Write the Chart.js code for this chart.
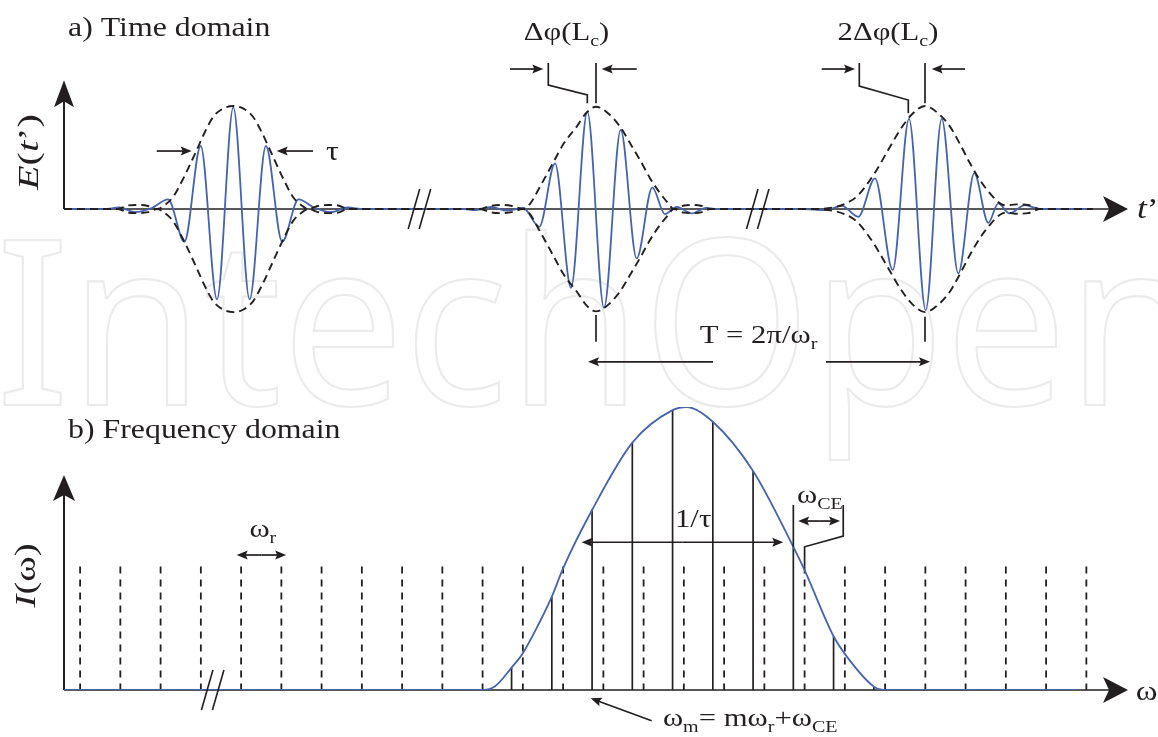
<!DOCTYPE html>
<html>
<head>
<meta charset="utf-8">
<script src="https://cdn.jsdelivr.net/npm/chart.js@4.4.0/dist/chart.umd.min.js"></script>
<style>
html, body { margin: 0; padding: 0; background: #fff; }
#wrap { position: relative; width: 1158px; height: 737px; overflow: hidden; }
#wrap canvas { position: absolute; left: 0; }
#fundo { top: 0; }
#topo { top: 0; }
#baixo { top: 370px; }
</style>
</head>
<body>
<div id="wrap">
  <canvas id="fundo" width="1158" height="737"></canvas>
  <canvas id="topo" width="1158" height="370"></canvas>
  <canvas id="baixo" width="1158" height="367"></canvas>
</div>
<script>
// a) dominio do tempo: t em unidades arbitrarias, amplitude normalizada (pico = 1)
const pulsoT = [0, 40, 55.2, 71.5, 87.8, 104.1, 120.4, 136.7, 153, 169.3, 185.6, 201.9, 218.2, 234.5, 250.8, 267.1, 283.4, 300,
    400, 411, 427, 443, 459.3, 475.3, 491, 507, 523.3, 540, 556.7, 572.7, 588.3, 601, 612.7, 627.7, 642, 655,
    740, 761, 778, 794.3, 811, 828.7, 845, 861.7, 877.7, 894.3, 910.3, 924.3, 934.3, 945.3, 961, 976, 1029];
const pulsoE = [0, 0, 0.015, -0.03, 0.01, 0.094, -0.317, 0.612, -0.877, 0.987, -0.877, 0.612, -0.317, 0.094, 0.01, -0.03, 0.015, 0,
    0, -0.01, 0.02, -0.015, 0.01, -0.172, 0.444, -0.764, 0.945, -0.958, 0.767, -0.479, 0.207, -0.049, 0.022, -0.042, 0.01, 0,
    0, -0.01, 0.03, -0.075, 0.298, -0.592, 0.876, -0.981, 0.876, -0.624, 0.348, -0.133, 0.055, -0.042, 0.039, 0, 0];

// envoltoria (lado de cima; o de baixo e o espelho)
const envT = [0, 54, 64, 74, 84, 93, 101, 109, 121, 132.7, 141, 149.3, 159, 169.3, 179.5, 189, 197.5, 206, 217.5, 229, 237, 244, 254, 264, 274, 284,
    416, 426, 437, 448, 459, 466, 475, 489, 500, 512.7, 522, 532, 544, 556, 566, 576, 586, 596, 603, 610, 620, 630, 638, 646,
    751, 771, 783, 792.7, 803, 812.7, 824, 836, 848, 861, 874, 886, 896, 906, 916, 926, 936, 942, 952, 964, 976, 1029];
const envA = [0, 0, 0.035, 0.04, 0.03, 0, 0.04, 0.117, 0.33, 0.573, 0.75, 0.896, 0.975, 1.0, 0.975, 0.896, 0.75, 0.573, 0.33, 0.117, 0.04, 0, 0.03, 0.04, 0.035, 0,
    0, 0.03, 0.04, 0.03, 0, 0.05, 0.2, 0.447, 0.64, 0.8, 0.93, 0.993, 0.93, 0.8, 0.64, 0.476, 0.3, 0.155, 0.07, 0, 0.035, 0.04, 0.03, 0,
    0, 0.02, 0.06, 0.12, 0.24, 0.38, 0.57, 0.767, 0.92, 1.0, 0.93, 0.8, 0.63, 0.444, 0.28, 0.152, 0.055, 0.035, 0.045, 0.04, 0, 0];

// b) dominio da frequencia: x em unidades de omega_r
const combN = [0, 1, 2, 3, 4, 5, 6, 7, 8, 9, 10, 11, 12, 13, 14, 15, 16, 17, 18, 19, 20, 21, 22, 23, 24, 25];
const combAltura = 0.436;
const modoN = [10.72, 11.72, 12.72, 13.72, 14.72, 15.72, 16.72, 17.72, 18.72, 19.72];
const modoI = [0.079, 0.33, 0.636, 0.874, 0.989, 0.948, 0.774, 0.506, 0.19, 0.012];
const espN = [-0.4, 10.01, 10.3, 10.72, 11.0, 11.4, 11.72, 12.0, 12.72, 13.72, 14.72, 15.07, 15.72, 16.72, 17.72, 18.0, 18.72, 19.05, 19.72, 19.95, 24.77];
const espI = [0, 0, 0.012, 0.079, 0.13, 0.235, 0.33, 0.43, 0.636, 0.874, 0.989, 1.0, 0.948, 0.774, 0.506, 0.424, 0.19, 0.118, 0.012, 0, 0];

const TINTA = '#231f20';
const AZUL = '#4464b0';
const SX = 1.18; // texto da figura original e meio esticado na horizontal
const SERIF = '"Liberation Serif", "Times New Roman", serif';

function pontos(xs, ys) {
    return xs.map((x, i) => ({ x: x, y: ys[i] }));
}

function fonte(tipo, tam) {
    const t = tipo === 's' ? Math.round(tam * 0.65) : tam;
    return (tipo === 'i' ? 'italic ' : '') + t + 'px ' + SERIF;
}

// partes: [texto, tipo]  tipo 'n' normal, 'i' italico, 's' subscrito
function escreve(ctx, partes, x, y, tam, alinh) {
    ctx.save();
    ctx.fillStyle = TINTA;
    ctx.textAlign = 'left';
    ctx.textBaseline = 'alphabetic';
    let larg = 0;
    partes.forEach(p => { ctx.font = fonte(p[1], tam); larg += ctx.measureText(p[0]).width; });
    ctx.translate(x, y);
    ctx.scale(SX, 1);
    let cx = alinh === 'center' ? -larg / 2 : 0;
    partes.forEach(p => {
        ctx.font = fonte(p[1], tam);
        ctx.fillText(p[0], cx, p[1] === 's' ? tam * 0.24 : 0);
        cx += ctx.measureText(p[0]).width;
    });
    ctx.restore();
}

function escreveVertical(ctx, partes, cx, cy, tam, compr) {
    ctx.save();
    ctx.fillStyle = TINTA;
    ctx.textAlign = 'left';
    ctx.textBaseline = 'middle';
    let larg = 0;
    partes.forEach(p => { ctx.font = fonte(p[1], tam); larg += ctx.measureText(p[0]).width; });
    ctx.translate(cx, cy);
    ctx.rotate(-Math.PI / 2);
    ctx.scale(compr / larg, 1);
    let x = -larg / 2;
    partes.forEach(p => {
        ctx.font = fonte(p[1], tam);
        ctx.fillText(p[0], x, 0);
        x += ctx.measureText(p[0]).width;
    });
    ctx.restore();
}

function linha(ctx, pts, larg) {
    ctx.save();
    ctx.strokeStyle = TINTA;
    ctx.lineWidth = larg || 1.7;
    ctx.beginPath();
    pts.forEach((p, i) => i ? ctx.lineTo(p[0], p[1]) : ctx.moveTo(p[0], p[1]));
    ctx.stroke();
    ctx.restore();
}

// seta de (x1,y1) ate a ponta (x2,y2)
function seta(ctx, x1, y1, x2, y2, comp, meia, entalhe, larg) {
    const a = Math.atan2(y2 - y1, x2 - x1);
    ctx.save();
    ctx.strokeStyle = TINTA;
    ctx.fillStyle = TINTA;
    ctx.lineWidth = larg || 1.7;
    ctx.beginPath();
    ctx.moveTo(x1, y1);
    ctx.lineTo(x2 - Math.cos(a) * comp * 0.7, y2 - Math.sin(a) * comp * 0.7);
    ctx.stroke();
    ctx.translate(x2, y2);
    ctx.rotate(a);
    ctx.beginPath();
    ctx.moveTo(0, 0);
    ctx.lineTo(-comp, -meia);
    ctx.lineTo(-comp + entalhe, 0);
    ctx.lineTo(-comp, meia);
    ctx.closePath();
    ctx.fill();
    ctx.restore();
}

function setaDupla(ctx, x1, y1, x2, y2) {
    const mx = (x1 + x2) / 2, my = (y1 + y2) / 2;
    seta(ctx, mx, my, x1, y1, 11, 4.5, 2);
    seta(ctx, mx, my, x2, y2, 11, 4.5, 2);
}

function quebra(ctx, cx, cy) {
    linha(ctx, [[cx - 11.5, cy + 20], [cx, cy - 20]], 1.6);
    linha(ctx, [[cx - 0.5, cy + 20], [cx + 11, cy - 20]], 1.6);
}

// marca d'agua ao fundo
const fundo = document.getElementById('fundo').getContext('2d');
fundo.font = '230px "Noto Sans"';
fundo.strokeStyle = '#ebebeb';
fundo.lineWidth = 2.2;
const largMarca = fundo.measureText('IntechOpen').width;
fundo.save();
fundo.translate(-4, 405);
fundo.scale(1205 / largMarca, 1);
fundo.strokeText('IntechOpen', 0, 0);
fundo.restore();

const decorTopo = {
    id: 'decorTopo',
    beforeDatasetsDraw(chart) {
        const ctx = chart.ctx;
        const X = t => chart.scales.x.getPixelForValue(t);
        const Y = v => chart.scales.y.getPixelForValue(v);
        seta(ctx, X(0), Y(0), X(0), Y(1.25), 27, 10, 6, 2);
        seta(ctx, X(0), Y(0), X(1064), Y(0), 25, 13, 6, 1.6);
    },
    afterDatasetsDraw(chart) {
        const ctx = chart.ctx;
        const X = t => chart.scales.x.getPixelForValue(t);
        const Y = v => chart.scales.y.getPixelForValue(v);

        quebra(ctx, X(355.7), Y(0));
        quebra(ctx, X(694), Y(0));

        // tau
        seta(ctx, X(92.7), Y(0.563), X(127.7), Y(0.563), 11, 4.5, 2);
        seta(ctx, X(249), Y(0.563), X(212.7), Y(0.563), 11, 4.5, 2);
        escreve(ctx, [['τ', 'n']], X(262), Y(0.476), 27);

        // delta phi
        linha(ctx, [[X(532), Y(1.4175)], [X(532), Y(1.026)]]);
        linha(ctx, [[X(532), Y(-1.029)], [X(532), Y(-1.288)]]);
        linha(ctx, [[X(484.3), Y(1.4175)], [X(484.3), Y(1.204)], [X(523.3), Y(1.107)], [X(523.3), Y(1.026)]]);
        seta(ctx, X(446), Y(1.359), X(479.3), Y(1.359), 11, 4.5, 2);
        seta(ctx, X(572.7), Y(1.359), X(537.7), Y(1.359), 11, 4.5, 2);
        escreve(ctx, [['Δφ(L', 'n'], ['c', 's'], [')', 'n']], X(502.5), Y(1.641), 26, 'center');

        // 2 delta phi
        linha(ctx, [[X(861), Y(1.4175)], [X(861), Y(1.026)]]);
        linha(ctx, [[X(861), Y(-1.046)], [X(861), Y(-1.288)]]);
        linha(ctx, [[X(795.3), Y(1.4175)], [X(795.3), Y(1.194)], [X(844.3), Y(1.058)], [X(844.3), Y(0.929)]]);
        seta(ctx, X(757.7), Y(1.359), X(791), Y(1.359), 11, 4.5, 2);
        seta(ctx, X(901), Y(1.359), X(867.7), Y(1.359), 11, 4.5, 2);
        escreve(ctx, [['2Δφ(L', 'n'], ['c', 's'], [')', 'n']], X(824), Y(1.641), 26, 'center');

        // periodo
        seta(ctx, X(649), Y(-1.4825), X(524), Y(-1.4825), 11, 4.5, 2);
        seta(ctx, X(762), Y(-1.4825), X(866), Y(-1.4825), 11, 4.5, 2);
        escreve(ctx, [['T = 2π/ω', 'n'], ['r', 's']], X(694.5), Y(-1.301), 26, 'center');

        escreve(ctx, [['a) Time domain', 'n']], X(4), Y(1.68), 27);
        escreveVertical(ctx, [['E', 'i'], ['(', 'n'], ['t', 'i'], ['’', 'n'], [')', 'n']], X(-34), Y(0.553), 30, 76);
        escreve(ctx, [['t', 'i'], ['’', 'n']], X(1073), Y(-0.087), 30);
    }
};

const decorBaixo = {
    id: 'decorBaixo',
    beforeDatasetsDraw(chart) {
        const ctx = chart.ctx;
        const X = n => chart.scales.x.getPixelForValue(n);
        const Y = v => chart.scales.y.getPixelForValue(v);
        seta(ctx, X(-0.4), Y(0), X(-0.4), Y(0.76), 26, 11, 6, 2);
        seta(ctx, X(-0.4), Y(0), X(26.035), Y(0), 25, 13, 6, 1.6);
    },
    afterDatasetsDraw(chart) {
        const ctx = chart.ctx;
        const X = n => chart.scales.x.getPixelForValue(n);
        const Y = v => chart.scales.y.getPixelForValue(v);

        quebra(ctx, X(3.3), Y(0));

        setaDupla(ctx, X(3.89), Y(0.477), X(5.12), Y(0.477));
        escreve(ctx, [['ω', 'n'], ['r', 's']], X(4.54), Y(0.54), 26, 'center');

        setaDupla(ctx, X(12.46), Y(0.522), X(17.47), Y(0.522));
        escreve(ctx, [['1/τ', 'n']], X(15.23), Y(0.577), 26, 'center');

        // omega CE
        linha(ctx, [[X(17.72), Y(0.506)], [X(17.72), Y(0.654)]]);
        linha(ctx, [[X(18.0), Y(0.436)], [X(18.0), Y(0.506)], [X(18.96), Y(0.544)], [X(18.96), Y(0.654)]]);
        setaDupla(ctx, X(17.84), Y(0.597), X(18.88), Y(0.597));
        escreve(ctx, [['ω', 'n'], ['CE', 's']], X(17.81), Y(0.661), 26);

        seta(ctx, X(14.2), Y(-0.1085), X(12.685), Y(-0.0293), 11, 4.5, 2);
        escreve(ctx, [['ω', 'n'], ['m', 's'], ['= mω', 'n'], ['r', 's'], ['+ω', 'n'], ['CE', 's']], X(14.48), Y(-0.127), 26);

        escreve(ctx, [['b) Frequency domain', 'n']], X(-0.3), Y(0.89), 27);
        escreveVertical(ctx, [['I', 'i'], ['(ω)', 'n']], X(-1.307), Y(0.405), 30, 64);
        escreve(ctx, [['ω', 'n']], X(26.23), Y(-0.035), 28);
    }
};

const opcoesBase = {
    responsive: false,
    animation: false,
    devicePixelRatio: 1,
    events: [],
    plugins: { legend: { display: false }, tooltip: { enabled: false } },
    elements: { point: { radius: 0 } }
};

// grafico de cima
const envCima = pontos(envT, envA);
const envBaixo = pontos(envT, envA.map(a => -a));
new Chart(document.getElementById('topo'), {
    type: 'line',
    data: {
        datasets: [
            { data: envCima, borderColor: TINTA, borderWidth: 1.9, borderDash: [8, 5], cubicInterpolationMode: 'monotone' },
            { data: envBaixo, borderColor: TINTA, borderWidth: 1.9, borderDash: [8, 5], cubicInterpolationMode: 'monotone' },
            { data: pontos(pulsoT, pulsoE), borderColor: AZUL, borderWidth: 1.8, cubicInterpolationMode: 'monotone' }
        ]
    },
    options: Object.assign({}, opcoesBase, {
        layout: { padding: { left: 64, right: 24, top: 75.1, bottom: 27 } },
        scales: {
            x: { type: 'linear', min: 0, max: 1070, display: false },
            y: { min: -1.3, max: 1.3, display: false }
        }
    }),
    plugins: [decorTopo]
});

// grafico de baixo
const modos = [];
modoN.forEach((n, i) => {
    modos.push({ x: n, y: modoI[i] });
    modos.push({ x: n, y: 0 });
    modos.push({ x: n, y: null });
});
const pente = combN.map(n => ({
    data: [{ x: n, y: combAltura }, { x: n, y: 0 }],
    borderColor: TINTA,
    borderWidth: 1.8,
    borderDash: [7, 6]
}));

new Chart(document.getElementById('baixo'), {
    type: 'line',
    data: {
        datasets: [
            { data: pontos(espN, espI), borderColor: AZUL, borderWidth: 1.8, cubicInterpolationMode: 'monotone' },
            { data: modos, borderColor: TINTA, borderWidth: 1.7, spanGaps: false }
        ].concat(pente)
    },
    options: Object.assign({}, opcoesBase, {
        layout: { padding: { left: 64, right: 23.35, top: 37, bottom: 47 } },
        scales: {
            x: { type: 'linear', min: -0.4, max: 26.2, display: false },
            y: { min: 0, max: 1, display: false }
        }
    }),
    plugins: [decorBaixo]
});
</script>
</body>
</html>
